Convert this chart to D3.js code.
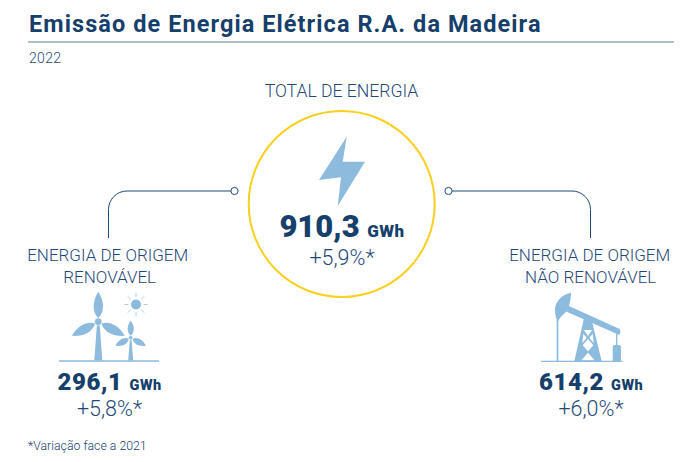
<!DOCTYPE html>
<html><head><meta charset="utf-8">
<script src="https://cdn.jsdelivr.net/npm/d3@7"></script>
<style>html,body{margin:0;background:#fff}svg{display:block}text{font-family:Roboto,sans-serif}</style>
</head><body><div id="c"></div>
<script>
const title = "Emissão de Energia Elétrica R.A. da Madeira";
const year = "2022";
const footnote = "*Variação face a 2021";
const groupIds = ["total","renovavel","naoRenovavel"];
const groupLabels = [["TOTAL DE ENERGIA"],["ENERGIA DE ORIGEM","RENOVÁVEL"],["ENERGIA DE ORIGEM","NÃO RENOVÁVEL"]];
const groupValues = [910.3,296.1,614.2];
const groupChanges = [5.9,5.8,6.0];
const unit = "GWh";

const NAVY="#163f6c", MID="#1f4a78", ICON="#8dbbde", GOLD="#fccf1f";
const locale=d3.formatLocale({decimal:",",thousands:".",grouping:[3],currency:["","€"]});
const fv=locale.format(".1f"), fc=v=>locale.format("+.1f")(v)+"%*";

const svg=d3.select("#c").append("svg").attr("width",700).attr("height",462).attr("viewBox","0 0 700 462");

svg.append("text").attr("x",29).attr("y",32).attr("font-size",23.5).attr("font-weight",700).attr("letter-spacing",1.07).attr("fill",NAVY).text(title);
svg.append("line").attr("x1",28).attr("x2",674).attr("y1",42).attr("y2",42).attr("stroke","#97a8bb").attr("stroke-width",1.4);
svg.append("text").attr("x",29).attr("y",63).attr("font-size",14).attr("font-weight",300).attr("letter-spacing",0.3).attr("fill",MID).text(year);
svg.append("text").attr("x",28).attr("y",450).attr("font-size",12.3).attr("font-weight",300).attr("fill",NAVY).text(footnote);

const layout=[
 {cx:342,labelX:[341.5],labelSize:17.6,labelY:[97],valY:237,chgY:265,valSize:31,unitSize:17,gap:7.5,ls:0,uls:0.5},
 {cx:109.5,labelX:[107.7,109.7],labelSize:17,labelY:[261,283],valY:390,chgY:416,valSize:24,unitSize:14.5,gap:7,ls:0.6,uls:0.4},
 {cx:591,labelX:[589.7,590.7],labelSize:17,labelY:[261,283],valY:390,chgY:416,valSize:24,unitSize:14.5,gap:7,ls:0.6,uls:0.4}];

// central ring
svg.append("circle").attr("cx",341.7).attr("cy",204).attr("r",93).attr("fill","none").attr("stroke",GOLD).attr("stroke-width",2);
// bolt
svg.append("path").attr("d",d3.line()([[346.7,136.7],[342.7,161.7],[365,161.7],[337.7,206],[341,177.3],[319,180]])+"Z").attr("fill",ICON);

// connectors
const conn=d3.path(); conn.moveTo(231,191); conn.lineTo(127,191); conn.arcTo(108.5,191,108.5,209.5,18.5); conn.lineTo(108.5,238);
const conn2=d3.path(); conn2.moveTo(452,191); conn2.lineTo(572,191); conn2.arcTo(590.5,191,590.5,209.5,18.5); conn2.lineTo(590.5,238);
svg.selectAll("path.conn").data([conn.toString(),conn2.toString()]).join("path").attr("class","conn").attr("d",d=>d).attr("fill","none").attr("stroke",MID).attr("stroke-width",1);
svg.selectAll("circle.dot").data([234.5,448.5]).join("circle").attr("class","dot").attr("cx",d=>d).attr("cy",191).attr("r",3.6).attr("fill","#fff").attr("stroke",MID).attr("stroke-width",1);

// text groups
const g=svg.selectAll("g.grp").data(groupIds.map((id,i)=>({id,labels:groupLabels[i],value:groupValues[i],change:groupChanges[i],l:layout[i]}))).join("g").attr("class","grp");
g.each(function(d){
  const s=d3.select(this);
  s.selectAll("text.lab").data(d.labels).join("text").attr("class","lab").attr("x",(t,i)=>d.l.labelX[i]).attr("y",(t,i)=>d.l.labelY[i]).attr("text-anchor","middle").attr("font-size",d.l.labelSize).attr("font-weight",300).attr("fill",MID).text(t=>t);
  const v=s.append("text").attr("x",d.l.cx).attr("y",d.l.valY).attr("text-anchor","middle").attr("fill",NAVY).attr("font-weight",900);
  v.append("tspan").attr("font-size",d.l.valSize).attr("letter-spacing",d.l.ls).text(fv(d.value));
  v.append("tspan").attr("dx",d.l.gap).attr("font-size",d.l.unitSize).attr("letter-spacing",d.l.uls).text(unit);
  s.append("text").attr("x",d.l.cx).attr("y",d.l.chgY).attr("text-anchor","middle").attr("font-size",21.5).attr("font-weight",300).attr("fill",MID).text(fc(d.change));
});

// wind icon
const wind=svg.append("g").attr("fill",ICON);
wind.append("line").attr("x1",59).attr("x2",159).attr("y1",361).attr("y2",361).attr("stroke",ICON).attr("stroke-width",1.4);
function turbine(x,y,len,w,baseW){
  wind.append("path").attr("d",d3.line()([[x-1.1*len/28,y],[x+1.1*len/28,y],[x+baseW/2,360.5],[x-baseW/2,360.5]])+"Z");
  [0,118,-118].forEach(a=>{
    wind.append("path").attr("transform",`translate(${x},${y}) rotate(${a})`)
     .attr("d",`M0,${-len*0.12}C${-w*0.7},${-len*0.35} ${-w*0.55},${-len*0.72} 0,${-len}C${w*0.55},${-len*0.72} ${w*0.7},${-len*0.35} 0,${-len*0.12}Z`);
  });
  wind.append("circle").attr("cx",x).attr("cy",y).attr("r",len*0.125).attr("stroke","#fff").attr("stroke-width",0.6);
}
turbine(98.3,321.7,30,10,8);
turbine(130.7,337.7,17,6.5,5);
wind.append("circle").attr("cx",136).attr("cy",304.5).attr("r",5);
d3.range(8).forEach(i=>{const a=i*Math.PI/4;
  wind.append("line").attr("x1",136+7.5*Math.cos(a)).attr("y1",304.5+7.5*Math.sin(a)).attr("x2",136+11.5*Math.cos(a)).attr("y2",304.5+11.5*Math.sin(a)).attr("stroke","#a9cce6").attr("stroke-width",1);
});

// pump icon (drawn in 3x zoom units)
const pump=svg.append("g").attr("transform","translate(535,285) scale(0.3333)").attr("fill",ICON);
pump.append("line").attr("x1",18).attr("x2",262).attr("y1",229).attr("y2",229).attr("stroke",ICON).attr("stroke-width",4);
pump.append("path").attr("d","M108,23C80,28 60,50 60,75C60,88 63,100 68,112C72,100 82,90 96,78L102,62C106,48 108,35 108,23Z");
pump.append("path").attr("d","M100,62L254,132Q259,140 253,150L95,80Z");
pump.append("rect").attr("x",65).attr("y",105).attr("width",5).attr("height",123);
pump.append("rect").attr("x",243).attr("y",145).attr("width",4).attr("height",37);
pump.append("path").attr("d","M233,228V186Q233,180 239,180H252Q258,180 258,186V228Z");
pump.append("path").attr("fill-rule","evenodd").attr("d","M148,95L170,105L200,228H118Z M147,135L171,135L159,153Z M145,146L155,158L142,174Z M173,146L163,158L176,174Z M159,162L175,181L159,199L143,181Z M159,203L179,226L139,226Z");
</script></body></html>
